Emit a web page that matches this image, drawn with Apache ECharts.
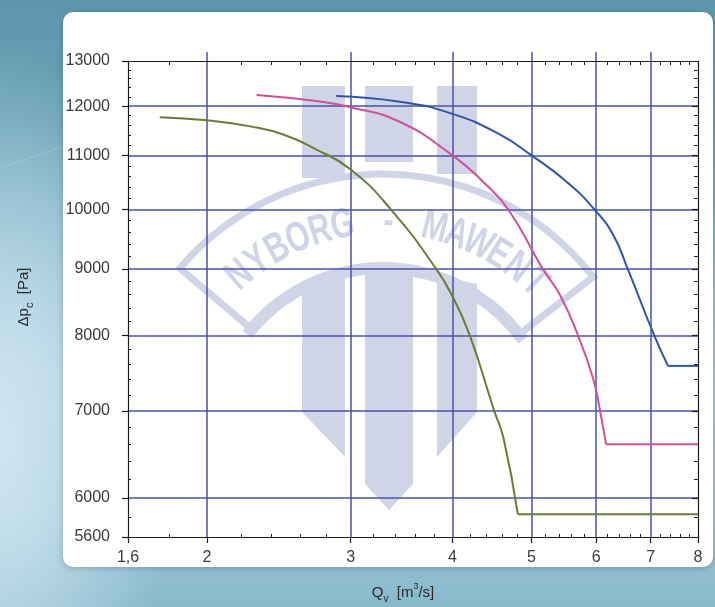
<!DOCTYPE html>
<html>
<head>
<meta charset="utf-8">
<script src="https://cdn.jsdelivr.net/npm/echarts@6/dist/echarts.min.js"></script>
<style>
html,body{margin:0;padding:0;}
#c{width:715px;height:607px;
background:
 radial-gradient(ellipse 170px 400px at 0px 440px, rgba(210,231,243,0.95) 0%, rgba(210,231,243,0) 100%),
 linear-gradient(180deg,#5e97ac 0%,#69a1b5 20%,#86b8ca 40%,#a7cadb 62%,#9cc6d6 85%,#88b9cb 100%);}
</style>
</head>
<body>
<div id="c"></div>
<script>
// ---- tick values ----
const xLabelValues = [1.6, 2, 3, 4, 5, 6, 7, 8];
const xGridValues = [2, 3, 4, 5, 6, 7];
const xMinorValues = [1.8, 2.2, 2.4, 2.6, 2.8, 3.2, 3.4, 3.6, 3.8, 4.2, 4.4, 4.6, 4.8,
  5.2, 5.4, 5.6, 5.8, 6.2, 6.4, 6.6, 6.8, 7.2, 7.4, 7.6, 7.8];
const yLabelValues = [5600, 6000, 7000, 8000, 9000, 10000, 11000, 12000, 13000];
const yGridValues = [6000, 7000, 8000, 9000, 10000, 11000, 12000];
const yMinorValues = [5800, 6200, 6400, 6600, 6800, 7200, 7400, 7600, 7800, 8200, 8400, 8600, 8800,
  9200, 9400, 9600, 9800, 10200, 10400, 10600, 10800, 11200, 11400, 11600, 11800, 12200, 12400, 12600, 12800];

// ---- series values [Qv m3/s, dp Pa] ----
const oliveCurve = [[1.75, 11770], [2.0, 11705], [2.26, 11580], [2.48, 11415], [2.72, 11120], [3.0, 10730],
  [3.36, 10000], [3.82, 9000], [4.0, 8570], [4.2, 8000], [4.5, 7000], [4.62, 6670], [4.81, 5830]];
const oliveFlat = [[4.81, 5830], [8, 5830]];
const pinkCurve = [[2.30, 12240], [2.72, 12110], [3.0, 11980], [3.45, 11670], [4.0, 11000], [4.36, 10500],
  [4.68, 10000], [5.16, 9000], [5.42, 8590], [5.70, 8000], [5.95, 7410], [6.07, 6990], [6.17, 6600]];
const pinkFlat = [[6.17, 6600], [8, 6600]];
const blueCurve = [[2.88, 12220], [3.45, 12095], [4.0, 11840], [4.57, 11415], [5.0, 11000], [5.52, 10500],
  [5.97, 10000], [6.30, 9550], [6.56, 9000], [7.07, 8000], [7.35, 7580]];
const blueFlat = [[7.35, 7580], [8, 7580]];

const wmText = 'NYBORG - MAWENT';

const FONT = "'Liberation Sans', Arial, sans-serif";
const BLACK = '#1c1c1c';
const GRIDC = '#4a51a6';
const WM = '#cfd5e7';

function xAxisDef(pos, opts) {
  return Object.assign({
    type: 'log', logBase: 10, min: 1.6, max: 8, position: pos, gridIndex: 0,
    axisLine: { show: false, onZero: false },
    axisTick: { show: false },
    axisLabel: { show: false },
    splitLine: { show: false },
    minorTick: { show: false }, minorSplitLine: { show: false }
  }, opts);
}
function yAxisDef(pos, opts) {
  return Object.assign({
    type: 'log', logBase: 10, min: 5600, max: 13000, position: pos, gridIndex: 0,
    axisLine: { show: false, onZero: false },
    axisTick: { show: false },
    axisLabel: { show: false },
    splitLine: { show: false },
    minorTick: { show: false }, minorSplitLine: { show: false }
  }, opts);
}

// watermark (decorative logo)
const cx = 383, cy = 440;
const wmElems = [
  { type: 'rect', z: -5, shape: { x: 302, y: 86, width: 43, height: 92 }, style: { fill: WM } },
  { type: 'rect', z: -5, shape: { x: 365, y: 86, width: 48, height: 76 }, style: { fill: WM } },
  { type: 'rect', z: -5, shape: { x: 437, y: 86, width: 40, height: 88 }, style: { fill: WM } },
  { type: 'sector', z: -5, shape: { cx: cx, cy: cy, r: 266, r0: 174, startAngle: -2.44, endAngle: -0.66, clockwise: true },
    style: { fill: 'none', stroke: WM, lineWidth: 7 } },
  { type: 'sector', z: -5, shape: { cx: cx, cy: cy, r: 178, r0: 166, startAngle: -2.48, endAngle: -0.62, clockwise: true },
    style: { fill: WM } },
  { type: 'polygon', z: -5, shape: { points: [[302, 282], [345, 276], [345, 457], [302, 412]] }, style: { fill: WM } },
  { type: 'polygon', z: -5, shape: { points: [[365, 272], [413, 272], [413, 484], [389, 510], [365, 484]] }, style: { fill: WM } },
  { type: 'polygon', z: -5, shape: { points: [[437, 276], [477, 284], [477, 412], [437, 457]] }, style: { fill: WM } }
];
const a0 = -131, a1 = -46;
wmText.split('').forEach(function (ch, i) {
  if (ch === ' ') return;
  const ang = (a0 + (a1 - a0) * i / (wmText.length - 1)) * Math.PI / 180;
  wmElems.push({
    type: 'text', z: -5,
    x: cx + 218 * Math.cos(ang), y: cy + 218 * Math.sin(ang),
    rotation: -(ang + Math.PI / 2), scaleX: 0.72,
    style: { text: ch, fill: WM, font: "bold 42px 'Liberation Sans', Arial, sans-serif",
      align: 'center', verticalAlign: 'middle', textAlign: 'center', textVerticalAlign: 'middle' }
  });
});

const chart = echarts.init(document.getElementById('c'), null, { renderer: 'canvas' });

function lineSeries(data, color, smooth) {
  return {
    type: 'line', xAxisIndex: 0, yAxisIndex: 0, data: data, showSymbol: false, symbol: 'none',
    smooth: smooth ? 0.5 : false,
    lineStyle: { color: color, width: 2 }, z: 5, silent: true
  };
}

chart.setOption({
  animation: false,
  backgroundColor: 'transparent',
  grid: { left: 128, top: 61, width: 570, height: 476, containLabel: false },
  xAxis: [
    xAxisDef('bottom', {
      axisLine: { show: true, onZero: false, lineStyle: { color: BLACK, width: 1.2 } },
      axisTick: { show: true, inside: false, length: 6, customValues: xLabelValues, lineStyle: { color: BLACK, width: 1.2 } },
      axisLabel: { show: true, customValues: xLabelValues, margin: 13, fontSize: 16, fontFamily: FONT, color: '#3a3a3a',
        formatter: function (v) { return String(Math.round(v * 10) / 10).replace('.', ','); } }
    }),
    xAxisDef('top', {
      axisLine: { show: true, onZero: false, lineStyle: { color: BLACK, width: 1.2 } },
      axisTick: { show: true, inside: false, length: 9, customValues: xGridValues, lineStyle: { color: GRIDC, width: 1.5 } },
      splitLine: { show: true, lineStyle: { color: GRIDC, width: 1.5 } }
    }),
    xAxisDef('bottom', {
      axisTick: { show: true, inside: true, length: 3, customValues: xMinorValues, lineStyle: { color: BLACK, width: 1 } }
    }),
    xAxisDef('top', {
      axisTick: { show: true, inside: true, length: 4, customValues: xMinorValues, lineStyle: { color: BLACK, width: 1 } }
    })
  ],
  yAxis: [
    yAxisDef('left', {
      axisLine: { show: true, onZero: false, lineStyle: { color: BLACK, width: 1.2 } },
      axisTick: { show: true, inside: false, length: 6, customValues: yLabelValues, lineStyle: { color: BLACK, width: 1.2 } },
      axisLabel: { show: true, customValues: yLabelValues, margin: 18, fontSize: 16, fontFamily: FONT, color: '#3a3a3a',
        formatter: function (v) { return String(Math.round(v)); } }
    }),
    yAxisDef('right', {
      axisLine: { show: true, onZero: false, lineStyle: { color: BLACK, width: 1.2 } },
      axisTick: { show: true, inside: true, length: 6, customValues: yGridValues, lineStyle: { color: BLACK, width: 1.2 } },
      splitLine: { show: true, lineStyle: { color: GRIDC, width: 1.5 } }
    }),
    yAxisDef('left', {
      axisTick: { show: true, inside: true, length: 3, customValues: yMinorValues, lineStyle: { color: BLACK, width: 1 } }
    }),
    yAxisDef('right', {
      axisTick: { show: true, inside: true, length: 4, customValues: yMinorValues, lineStyle: { color: BLACK, width: 1 } }
    })
  ],
  graphic: { elements: [
    { type: 'line', z: -20, shape: { x1: 0, y1: 168, x2: 64, y2: 146 }, style: { stroke: 'rgba(255,255,255,0.12)', lineWidth: 1.5 } },
    { type: 'rect', z: -10, shape: { x: 63, y: 12, width: 650, height: 555, r: 10 },
      style: { fill: '#ffffff', shadowBlur: 6, shadowColor: 'rgba(0,40,60,0.25)', shadowOffsetY: 1 } }
  ].concat(wmElems).concat([
    { type: 'text', z: 10, x: 403, y: 593,
      style: { text: '{a|Q}{s|v}{a|  [m}{p|3}{a|/s]}', align: 'center', verticalAlign: 'middle',
        textAlign: 'center', textVerticalAlign: 'middle',
        rich: {
          a: { fontSize: 15, fontFamily: FONT, fill: '#2a2a2a', color: '#2a2a2a', lineHeight: 22 },
          s: { fontSize: 10, fontFamily: FONT, fill: '#2a2a2a', color: '#2a2a2a', lineHeight: 9, verticalAlign: 'bottom' },
          p: { fontSize: 9, fontFamily: FONT, fill: '#2a2a2a', color: '#2a2a2a', lineHeight: 9, verticalAlign: 'top' }
        } } },
    { type: 'text', z: 10, x: 24, y: 297, rotation: Math.PI / 2,
      style: { text: '{a|Δp}{s|c}{a|  [Pa]}', align: 'center', verticalAlign: 'middle',
        textAlign: 'center', textVerticalAlign: 'middle',
        rich: {
          a: { fontSize: 15, fontFamily: FONT, fill: '#2a2a2a', color: '#2a2a2a', lineHeight: 22 },
          s: { fontSize: 11, fontFamily: FONT, fill: '#2a2a2a', color: '#2a2a2a', lineHeight: 9, verticalAlign: 'bottom' }
        } } }
  ]) },
  series: [
    lineSeries(oliveCurve, '#6b7c38', true),
    lineSeries(oliveFlat, '#6b7c38', false),
    lineSeries(pinkCurve, '#d0509a', true),
    lineSeries(pinkFlat, '#d0509a', false),
    lineSeries(blueCurve, '#2d55a6', true),
    lineSeries(blueFlat, '#2d55a6', false)
  ]
});
</script>
</body>
</html>
